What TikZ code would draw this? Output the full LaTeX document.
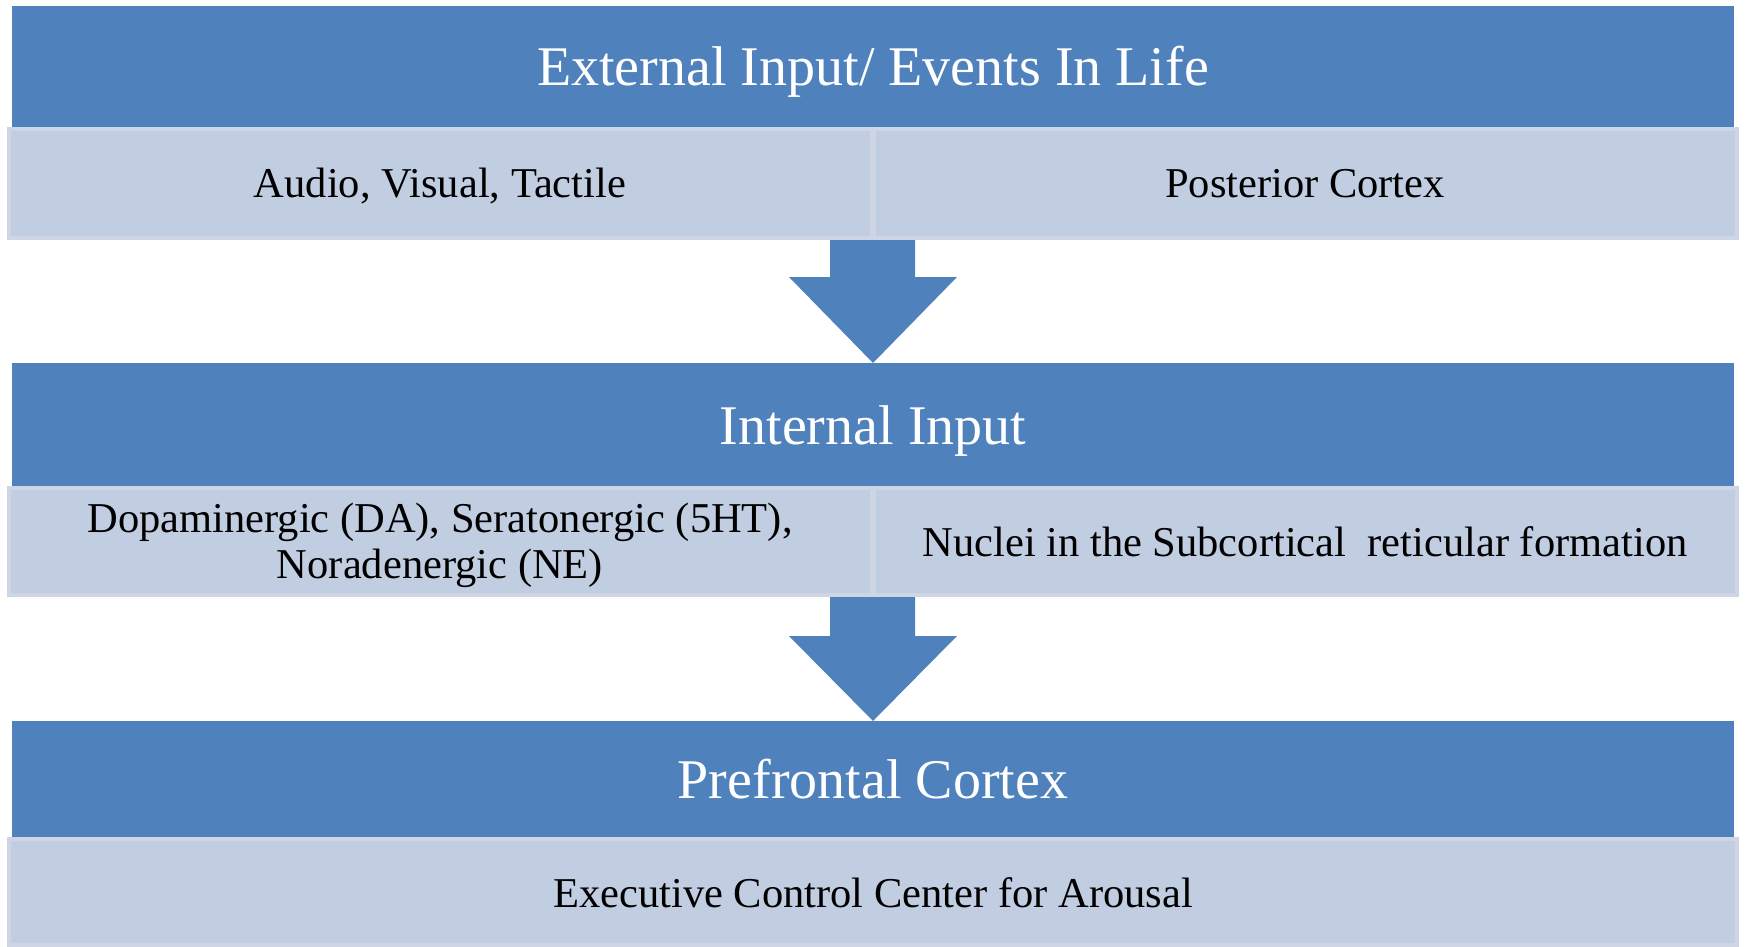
\documentclass[tikz,border=0pt]{standalone}
\usepackage{fontspec}
\setmainfont{Liberation Serif}

\definecolor{barblue}{RGB}{79,129,189}
\definecolor{boxfill}{RGB}{193,205,225}
\definecolor{boxline}{RGB}{206,214,230}

\tikzset{
  bartext/.style={text=white, inner sep=0pt, text height=18.5pt, text depth=0pt,
    font=\fontsize{28}{30}\selectfont},
  boxtext/.style={text=black, inner sep=0pt, text height=14pt, text depth=0pt,
    font=\fontsize{21.25}{23}\selectfont},
  lightbox/.style={fill=boxfill, draw=boxline, line width=2pt},
}

\begin{document}
\begin{tikzpicture}[x=0.5pt,y=-0.5pt]

\useasboundingbox (0,0) rectangle (1745,947);

% dark title bars
\fill[barblue] (12,  6) rectangle (1734,127);
\fill[barblue] (12,363) rectangle (1734,486);
\fill[barblue] (12,721) rectangle (1734,837);

% block arrows
\fill[barblue] (830,240) -- (915,240) -- (915,277) -- (957,277) -- (873,363) -- (789,277) -- (830,277) -- cycle;
\fill[barblue] (830,597) -- (915,597) -- (915,636) -- (957,636) -- (873,721) -- (789,636) -- (830,636) -- cycle;

% light boxes
\filldraw[lightbox] (  9,129) rectangle ( 872,238);
\filldraw[lightbox] (874,129) rectangle (1737,238);

\filldraw[lightbox] (  9,488) rectangle ( 872,595);
\filldraw[lightbox] (874,488) rectangle (1737,595);

\filldraw[lightbox] (  9,839) rectangle (1737,945);

\node[bartext] (ext)  at (873, 67.5) {External Input/ Events In Life};
\node[bartext] (intl) at (873,425.5) {Internal Input};
\node[bartext] (pfc)  at (873,780)   {Prefrontal Cortex};

\node[boxtext] (extL) at ( 440,184) {Audio, Visual, Tactile};
\node[boxtext] (extR) at (1305,184) {Posterior Cortex};

\node[boxtext, text height=, text depth=, align=center] (intlL) at (440,545)
  {Dopaminergic (DA), Seratonergic (5HT),\\ Noradenergic (NE)};
\node[boxtext] (intlR) at (1305,542) {Nuclei in the Subcortical \ reticular formation};

\node[boxtext] (pfcB) at (873,893) {Executive Control Center for Arousal};

\end{tikzpicture}
\end{document}
